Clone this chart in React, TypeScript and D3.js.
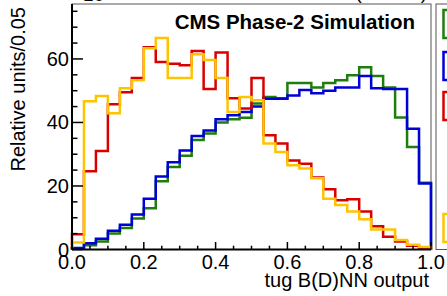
import React from 'react';
import * as d3 from 'd3';

// histogram contents, 30 bins on [0, 1]
const seriesNames = ['sig A', 'sig B', 'bkg A', 'bkg B'];
const seriesColors = ['#1e7d0e', '#0000d8', '#d80000', '#ffc400'];

const greenVals = [0.3, 1.3, 2.5, 5, 6.8, 9.8, 13, 21.5, 26, 29.5, 34.5, 36.5, 40, 41, 41.5, 46, 48, 47.6, 52.4, 52.4, 51, 52.4, 53.3, 54.9, 57.4, 54.6, 51, 41.6, 32.3, 21];
const blueVals = [0.5, 2, 3.4, 5.9, 7.8, 11, 16, 23, 27.5, 31.2, 35.7, 37.5, 41, 42.3, 43.3, 45, 47.5, 47.5, 48.5, 50.2, 49.2, 50, 51, 51, 54.6, 50.8, 50.5, 50.5, 38, 20.8];
const redVals = [4.8, 24.6, 31, 45.7, 49.5, 54, 63.7, 59, 58.5, 58, 62.5, 50.5, 62, 47.6, 44.4, 54, 36, 33.4, 28, 27, 22.7, 19, 15.5, 15.8, 12, 7.3, 4, 2.5, 1.2, 0.5];
const yellowVals = [2.2, 46.7, 48.3, 42.9, 50.8, 53.3, 63.4, 66.6, 54, 54, 61.5, 59.7, 54, 43.3, 48, 47, 33.4, 30.7, 26.5, 25.5, 22.4, 16, 14, 12, 9.5, 6.3, 6.3, 3, 1.5, 0.8];

const xMajor = [0, 0.2, 0.4, 0.6, 0.8, 1.0];
const yMajor = [0, 20, 40, 60];

const font = "'Liberation Sans', Arial, Helvetica, sans-serif";

const App = () => {
  const width = 447;
  const height = 296;
  const left = 72, right = 431, top = 4, bottom = 249.5;

  const x = d3.scaleLinear().domain([0, 1]).range([left, right]);
  const y = d3.scaleLinear().domain([0, 77.3]).range([bottom, top]);

  const all = [greenVals, blueVals, redVals, yellowVals];

  const histPath = (vals) => {
    const n = vals.length;
    let p = `M${x(0)},${y(0)}`;
    vals.forEach((v, i) => {
      p += `L${x(i / n)},${y(v)}L${x((i + 1) / n)},${y(v)}`;
    });
    p += `L${x(1)},${y(0)}`;
    return p;
  };

  const xMinor = d3.range(0, 1.0001, 0.05);
  const yMinor = d3.range(0, 77, 5);

  // legend boxes
  const legY = [10, 52, 92, 214];

  return (
    <svg width={width} height={height} style={{ position: 'absolute', left: 0, top: 0, background: '#fff' }}>
      <rect x={0} y={0} width={width} height={height} fill="#fff" />

      {/* header texts, mostly above the canvas */}
      <text x={72} y={1} fontFamily={font} fontSize={19} fill="#000">×10³</text>
      <text x={427} y={-1} fontFamily={font} fontSize={19} fill="#000" textAnchor="end">(14 TeV)</text>

      {/* frame */}
      <rect x={left} y={top} width={right - left} height={bottom - top} fill="none" stroke="#555" strokeWidth={1} />

      {/* histograms */}
      {all.map((vals, k) => (
        <path key={k} d={histPath(vals)} fill="none" stroke={seriesColors[k]} strokeWidth={2.5} />
      ))}

      {/* axes */}
      <line x1={left} x2={right} y1={bottom} y2={bottom} stroke="#000" strokeWidth={2} />
      <line x1={left} x2={left} y1={top} y2={bottom} stroke="#000" strokeWidth={2} />

      {xMinor.map((t, i) => {
        const major = xMajor.some(m => Math.abs(m - t) < 1e-6);
        return <line key={'xm' + i} x1={x(t)} x2={x(t)} y1={bottom} y2={bottom - (major ? 7.5 : 3.8)} stroke="#000" strokeWidth={1.5} />;
      })}
      {yMinor.map((t, i) => {
        const major = yMajor.includes(t);
        return <line key={'ym' + i} x1={left} x2={left + (major ? 11 : 5.5)} y1={y(t)} y2={y(t)} stroke="#000" strokeWidth={1.5} />;
      })}

      {xMajor.map((t, i) => (
        <text key={'xl' + i} x={x(t)} y={269} textAnchor="middle" fontFamily={font} fontSize={20} fill="#000">{t.toFixed(1)}</text>
      ))}
      {yMajor.map((t, i) => (
        <text key={'yl' + i} x={69} y={y(t)} dy="0.35em" textAnchor="end" fontFamily={font} fontSize={20} fill="#000">{t}</text>
      ))}

      {/* axis titles */}
      <text x={429} y={287} textAnchor="end" fontFamily={font} fontSize={20} fill="#000">tug B(D)NN output</text>
      <text transform="translate(25,7) rotate(-90)" textAnchor="end" fontFamily={font} fontSize={20} fill="#000">Relative units/0.05</text>

      {/* title */}
      <text x={415} y={29} textAnchor="end" fontFamily={font} fontSize={20.5} fontWeight="bold" fill="#000">CMS Phase-2 Simulation</text>

      {/* legend (cut by the canvas edge) */}
      <rect x={436} y={top} width={60} height={bottom - top} fill="#fff" stroke="#555" strokeWidth={1} />
      {seriesNames.map((s, k) => (
        <rect key={s} x={443.5} y={legY[k]} width={30} height={28} fill="none" stroke={seriesColors[k]} strokeWidth={2.5} />
      ))}
    </svg>
  );
};

export default App;
